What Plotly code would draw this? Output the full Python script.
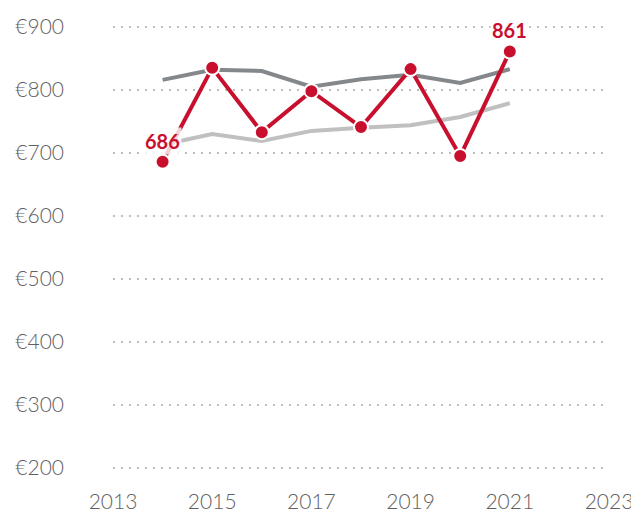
import plotly.graph_objects as go

years = [2014, 2015, 2016, 2017, 2018, 2019, 2020, 2021]
main_values = [686, 835, 733, 798, 741, 833, 695, 861]
dark_values = [816, 832, 830, 805, 817, 824, 811, 833]
light_values = [713, 730, 719, 735, 740, 744, 757, 779]
x_ticks = [2013, 2015, 2017, 2019, 2021, 2023]
y_ticks = [200, 300, 400, 500, 600, 700, 800, 900]
y_labels = ["€" + str(v) for v in y_ticks]
label_points = [(2014, 686), (2021, 861)]

RED = "#C8102E"
fig = go.Figure()
fig.add_trace(go.Scatter(x=years, y=light_values, mode="lines",
                         line=dict(color="#C0C0C0", width=4), hoverinfo="skip"))
fig.add_trace(go.Scatter(x=years, y=dark_values, mode="lines",
                         line=dict(color="#85888B", width=4), hoverinfo="skip"))
fig.add_trace(go.Scatter(x=years, y=main_values, mode="lines+markers",
                         line=dict(color=RED, width=4),
                         marker=dict(size=14, color=RED, line=dict(color="white", width=2)),
                         hoverinfo="skip"))

for (xv, yv) in label_points:
    fig.add_annotation(x=xv, y=yv, text="<b>%d</b>" % yv, showarrow=False,
                       yshift=21, font=dict(family="Lato", size=20, color=RED),
                       bgcolor="rgba(255,255,255,0.8)", borderpad=1)

# page body has an 8px default margin, so the figure is 8px smaller and margins shifted
fig.update_layout(
    width=631, height=505,
    margin=dict(l=105, r=30, t=17, b=43, autoexpand=False),
    paper_bgcolor="white", plot_bgcolor="white",
    showlegend=False,
    font=dict(family="Lato", color="#5f6062"),
    xaxis=dict(range=[2013, 2023], tickvals=x_ticks, showgrid=False, zeroline=False,
               showline=False, ticks="", ticklabelstandoff=17, automargin=False,
               tickfont=dict(family="Lato", size=21, color="#5f6062", weight=300)),
    yaxis=dict(range=[197, 903], tickvals=y_ticks, ticktext=y_labels,
               showgrid=True, gridcolor="#BDBDBD", gridwidth=2, griddash="2px,6px",
               zeroline=False, showline=False, ticks="", ticklabelstandoff=48,
               automargin=False,
               tickfont=dict(family="Lato", size=21, color="#5f6062", weight=300)),
)
fig.write_html("out.html")
